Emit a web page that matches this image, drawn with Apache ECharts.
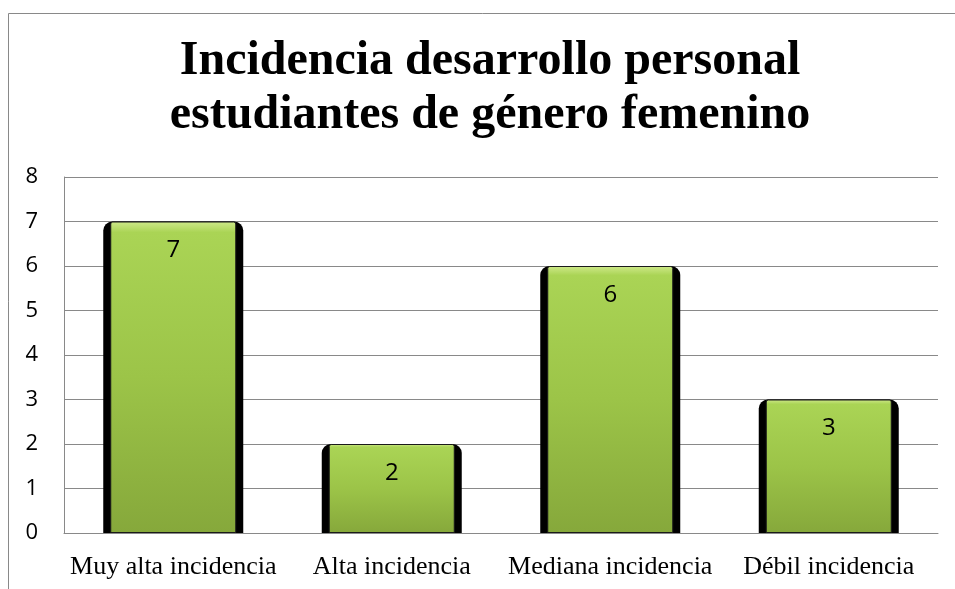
<!DOCTYPE html>
<html>
<head>
	<meta charset="utf-8">
	<title>Incidencia desarrollo personal</title>
	<script src="https://cdn.jsdelivr.net/npm/echarts@6/dist/echarts.min.js"></script>
	<style>
		html, body { margin: 0; padding: 0; background: #fff; }
		#chart { width: 955px; height: 589px; }
	</style>
</head>
<body>
	<div id="chart"></div>
<script type="text/javascript">
	var titleLines = ["Incidencia desarrollo personal", "estudiantes de género femenino"];
	var categories = ["Muy alta incidencia", "Alta incidencia", "Mediana incidencia", "Débil incidencia"];
	var values = [7, 2, 6, 3];
	var yTicks = [0, 1, 2, 3, 4, 5, 6, 7, 8];

	var gridColor = "#898989";
	var myChart = echarts.init(document.getElementById("chart"));
	var option = {
		animation: false,
		backgroundColor: "#fff",
		title: {
			text: titleLines.join("\n"),
			left: 485,
			textAlign: "center",
			top: 30,
			textStyle: {
				fontFamily: "Liberation Serif",
				fontWeight: "bold",
				fontSize: 48,
				lineHeight: 54,
				color: "#000"
			}
		},
		graphic: [{
			type: "rect",
			shape: { x: 8.5, y: 13.5, width: 1000, height: 700 },
			style: { fill: "none", stroke: gridColor, lineWidth: 1 },
			silent: true
		}],
		grid: { left: 64, right: 17, top: 177, bottom: 56 },
		xAxis: [{
			type: "category",
			data: categories,
			axisLine: { show: true, lineStyle: { color: gridColor, width: 1 } },
			axisTick: { show: false },
			axisLabel: {
				interval: 0,
				hideOverlap: false,
				fontFamily: "Liberation Serif",
				fontSize: 26,
				color: "#000",
				margin: 21
			}
		}, {
			type: "category",
			data: categories,
			show: false
		}],
		yAxis: {
			type: "value",
			min: yTicks[0],
			max: yTicks[yTicks.length - 1],
			interval: 1,
			axisLine: { show: true, lineStyle: { color: gridColor, width: 1 } },
			axisTick: { show: false },
			splitLine: { lineStyle: { color: gridColor, width: 1 } },
			axisLabel: {
				fontFamily: "Open Sans",
				fontSize: 22,
				color: "#000",
				margin: 26
			}
		},
		series: [{
			// black backing behind each bar
			type: "bar",
			xAxisIndex: 1,
			data: values,
			barWidth: 140,
			silent: true,
			z: 2,
			itemStyle: { color: "#000", borderRadius: [9, 9, 0, 0] }
		}, {
			type: "bar",
			xAxisIndex: 0,
			data: values,
			barWidth: 126,
			z: 3,
			itemStyle: {
				borderRadius: [2, 2, 0, 0],
				borderColor: "#1a1a1a",
				borderWidth: 1,
				color: {
					type: "linear", x: 0, y: 0, x2: 0, y2: 1,
					colorStops: [
						{ offset: 0, color: "#cfe98a" },
						{ offset: 0.035, color: "#aad455" },
						{ offset: 0.5, color: "#9cc448" },
						{ offset: 1, color: "#86a83b" }
					]
				}
			},
			label: {
				show: true,
				position: "insideTop",
				distance: 17,
				fontFamily: "Open Sans",
				fontSize: 24,
				color: "#000"
			}
		}]
	};
	myChart.setOption(option);
</script>
</body>
</html>
